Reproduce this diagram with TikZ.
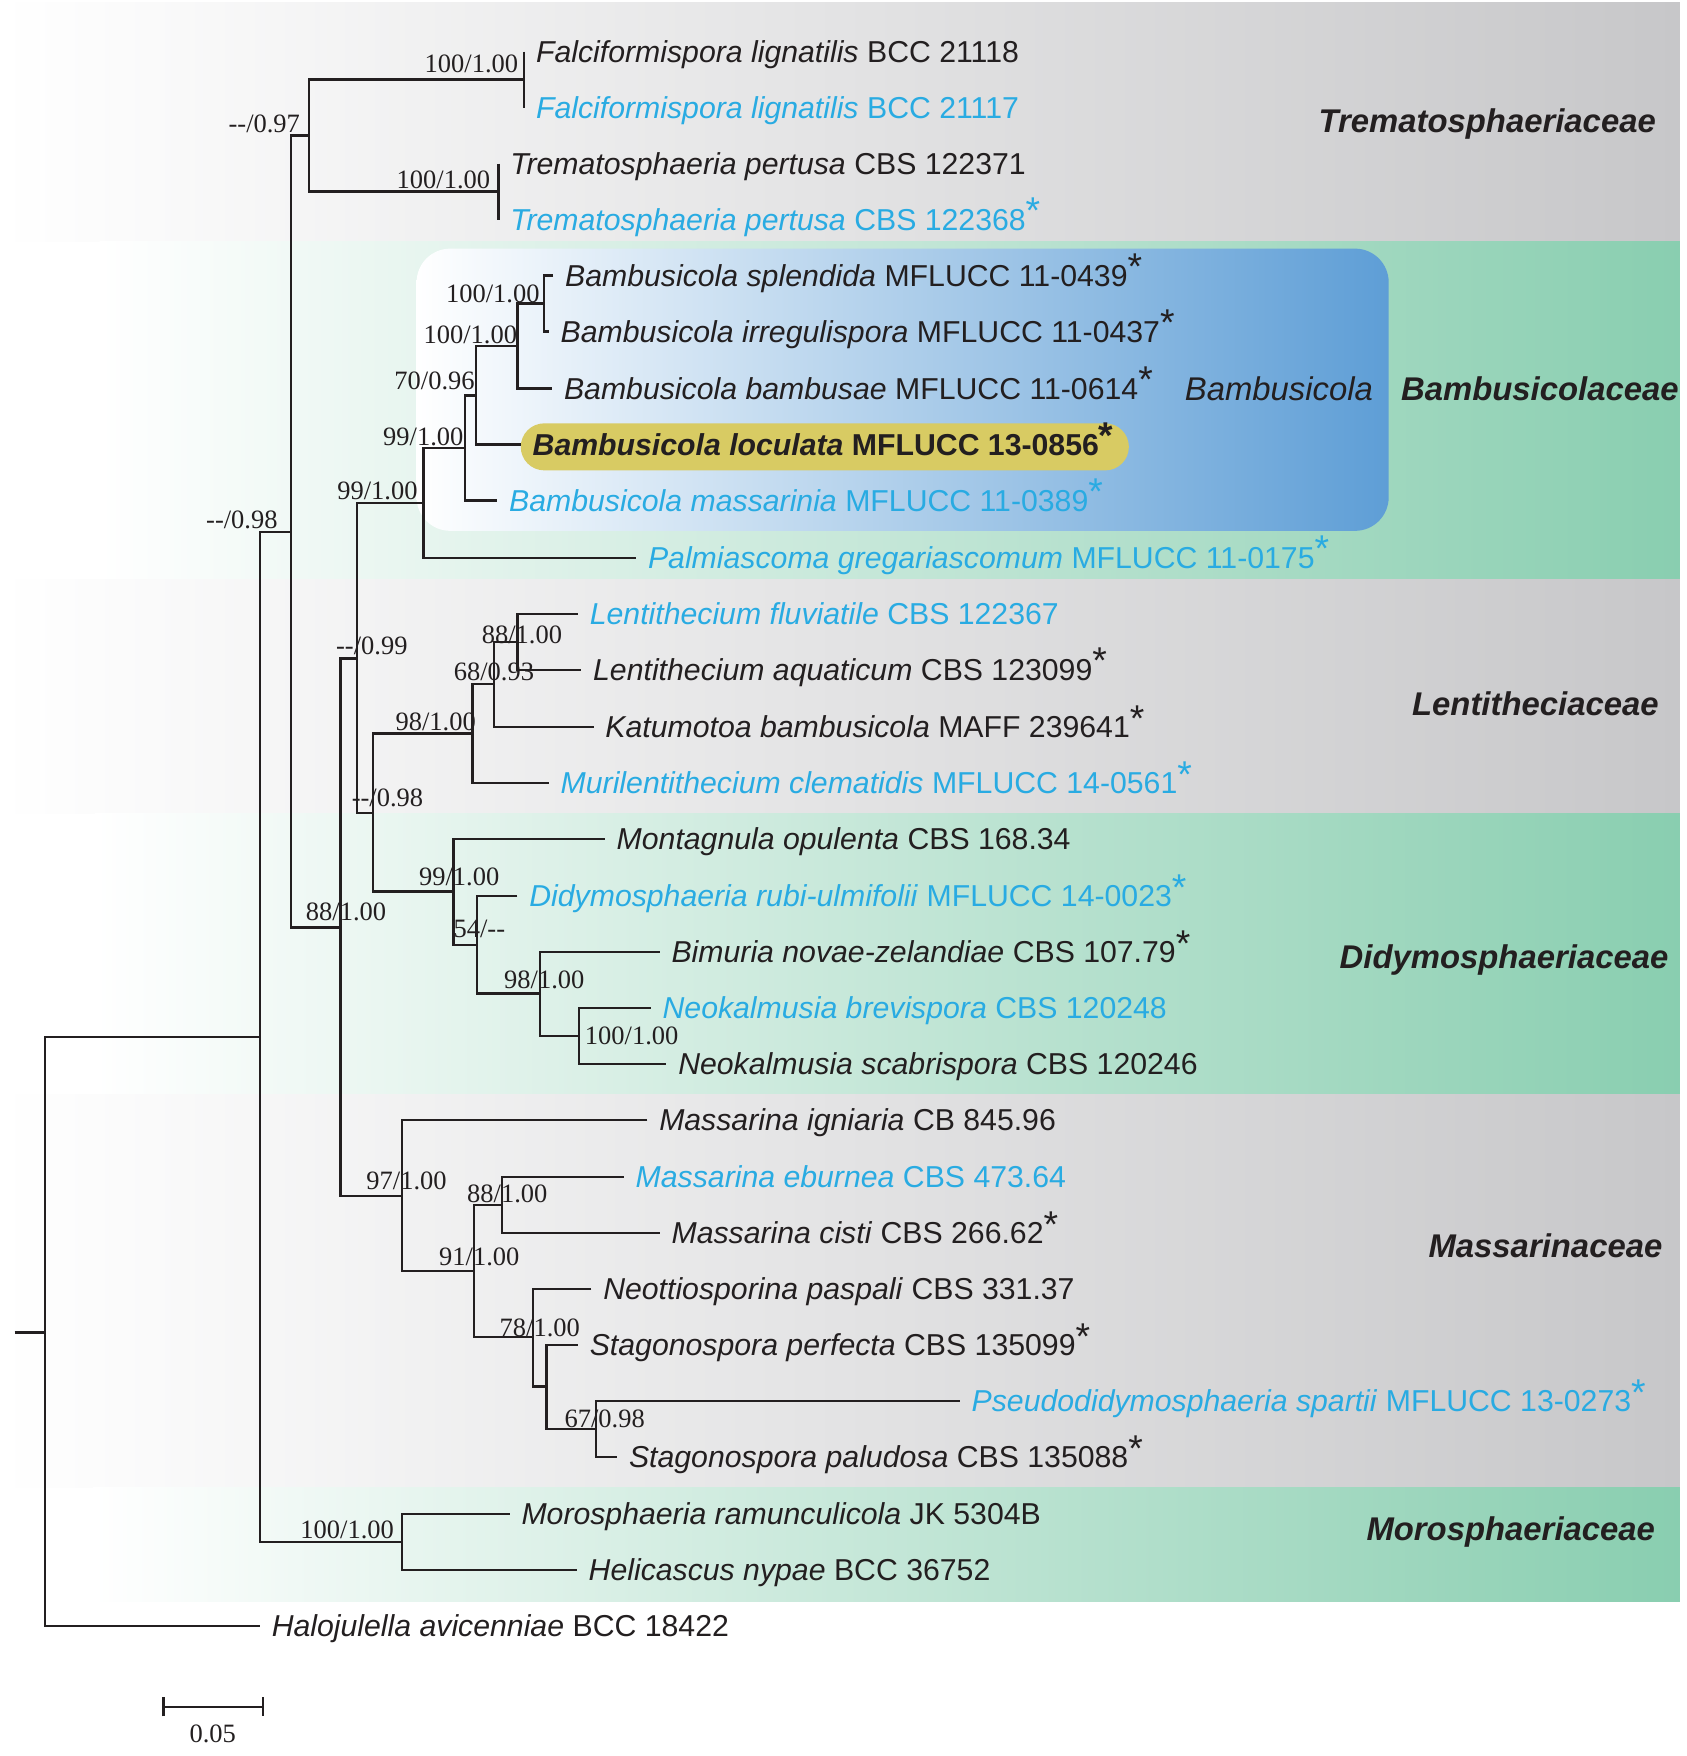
\documentclass[tikz,border=0pt]{standalone}
\usepackage{fontspec}
\setmainfont{Liberation Sans}
\newfontfamily\timesfont{Liberation Serif}
\usetikzlibrary{positioning,arrows.meta}

\definecolor{inkblack}{RGB}{35,31,32}
\definecolor{tipblue}{RGB}{41,171,226}
\definecolor{bandgray}{RGB}{199,199,201}
\definecolor{bandgreen}{RGB}{137,206,176}
\definecolor{genusblue}{RGB}{94,158,214}
\definecolor{locfill}{RGB}{216,203,99}

\newcommand{\spn}[1]{\textit{#1}}
\newcommand{\typestr}{\raisebox{.22em}{\fontsize{10}{10}\selectfont *}}

\tikzset{
  branch/.style={line width=0.65pt, draw=inkblack},
  taxon/.style={anchor=west, inner sep=0pt, text height=5.8pt, text depth=0pt,
    text=inkblack, font=\fontsize{8.1}{9}\selectfont},
  bluetaxon/.style={taxon, text=tipblue},
  support/.style={inner sep=0pt, text=inkblack, font=\timesfont\fontsize{7.1}{8}\selectfont},
  family/.style={inner sep=0pt, text=inkblack, font=\bfseries\itshape\fontsize{8.8}{10}\selectfont},
}

\begin{document}
\begin{tikzpicture}[x=0.3pt, y=-0.3pt]
  \useasboundingbox (0,0) rectangle (1506,1568);

  % Family bands
  \shade[left color=white, right color=bandgray] (0,2) rectangle (1500,216);
  \shade[left color=white, right color=bandgreen] (89,216) rectangle (1500,517);
  \shade[left color=white, right color=bandgray] (0,517) rectangle (1500,726);
  \shade[left color=white, right color=bandgreen] (85,726) rectangle (1500,977);
  \shade[left color=white, right color=bandgray] (0,977) rectangle (1500,1328);
  \shade[left color=white, right color=bandgreen] (83,1328) rectangle (1500,1430);

  % Genus box and new species highlight
  \shade[left color=white, right color=genusblue, rounded corners=9pt] (372,222) rectangle (1240,474);
  \fill[locfill, rounded corners=6.3pt] (465,378) rectangle (1008,420);

  % Tips
  \coordinate (t1) at (468,46);
  \coordinate (t2) at (468,96);
  \coordinate (t3) at (445,146);
  \coordinate (t4) at (445,196);
  \coordinate (t5) at (494,246);
  \coordinate (t6) at (490,296);
  \coordinate (t7) at (493,347);
  \coordinate (t8) at (465,397);
  \coordinate (t9) at (444,447);
  \coordinate (t10) at (568,498);
  \coordinate (t11) at (516,548);
  \coordinate (t12) at (519,598);
  \coordinate (t13) at (530,649);
  \coordinate (t14) at (490,699);
  \coordinate (t15) at (540,749);
  \coordinate (t16) at (462,800);
  \coordinate (t17) at (589,850);
  \coordinate (t18) at (581,900);
  \coordinate (t19) at (595,950);
  \coordinate (t20) at (578,1000);
  \coordinate (t21) at (557,1051);
  \coordinate (t22) at (589,1101);
  \coordinate (t23) at (528,1151);
  \coordinate (t24) at (516,1201);
  \coordinate (t25) at (857,1251);
  \coordinate (t26) at (551,1301);
  \coordinate (t27) at (455,1352);
  \coordinate (t28) at (515,1402);
  \coordinate (t29) at (232,1452);

  % Internal nodes
  \coordinate (nFal) at (468,71);
  \coordinate (nTre) at (445,171);
  \coordinate (nTrem) at (276,121);
  \coordinate (nBam1) at (486,271);
  \coordinate (nBam2) at (462,309);
  \coordinate (nBam3) at (425,353);
  \coordinate (nBam4) at (415,400);
  \coordinate (nBamc) at (378,449);
  \coordinate (nLen1) at (462,573);
  \coordinate (nLen2) at (441,611);
  \coordinate (nLen3) at (422,655);
  \coordinate (nNeo) at (517,925);
  \coordinate (nDid1) at (482,887);
  \coordinate (nDid2) at (426,844);
  \coordinate (nDid3) at (405,796);
  \coordinate (nLD) at (333,726);
  \coordinate (nBLD) at (319,588);
  \coordinate (nMas1) at (448,1076);
  \coordinate (nSta1) at (532,1276);
  \coordinate (nSta2) at (488,1238);
  \coordinate (nSta3) at (476,1194);
  \coordinate (nMas2) at (423,1135);
  \coordinate (nMas3) at (359,1068);
  \coordinate (nCore) at (304,828);
  \coordinate (nUp) at (260,475);
  \coordinate (nMor) at (359,1377);
  \coordinate (nIn) at (232,926);
  \coordinate (root) at (40,1190);
  \coordinate (stub) at (13,1190);

  % Branches
  \draw[branch] (t1) -| (nFal) |- (t2);
  \draw[branch] (t3) -| (nTre) |- (t4);
  \draw[branch] (nFal) -| (nTrem) |- (nTre);
  \draw[branch] (t5) -| (nBam1) |- (t6);
  \draw[branch] (nBam1) -| (nBam2) |- (t7);
  \draw[branch] (nBam2) -| (nBam3) |- (t8);
  \draw[branch] (nBam3) -| (nBam4) |- (t9);
  \draw[branch] (nBam4) -| (nBamc) |- (t10);
  \draw[branch] (t11) -| (nLen1) |- (t12);
  \draw[branch] (nLen1) -| (nLen2) |- (t13);
  \draw[branch] (nLen2) -| (nLen3) |- (t14);
  \draw[branch] (t18) -| (nNeo) |- (t19);
  \draw[branch] (t17) -| (nDid1) |- (nNeo);
  \draw[branch] (t16) -| (nDid2) |- (nDid1);
  \draw[branch] (t15) -| (nDid3) |- (nDid2);
  \draw[branch] (nLen3) -| (nLD) |- (nDid3);
  \draw[branch] (nBamc) -| (nBLD) |- (nLD);
  \draw[branch] (t21) -| (nMas1) |- (t22);
  \draw[branch] (t25) -| (nSta1) |- (t26);
  \draw[branch] (t24) -| (nSta2) |- (nSta1);
  \draw[branch] (t23) -| (nSta3) |- (nSta2);
  \draw[branch] (nMas1) -| (nMas2) |- (nSta3);
  \draw[branch] (t20) -| (nMas3) |- (nMas2);
  \draw[branch] (nBLD) -| (nCore) |- (nMas3);
  \draw[branch] (nTrem) -| (nUp) |- (nCore);
  \draw[branch] (t27) -| (nMor) |- (t28);
  \draw[branch] (nUp) -| (nIn) |- (nMor);
  \draw[branch] (nIn) -| (root) |- (t29);
  \draw[branch] (stub) -- (root);

  % Taxon names
  \node[taxon, right=3pt of t1] (l1) {\spn{Falciformispora lignatilis} BCC 21118};
  \node[bluetaxon, right=3pt of t2] (l2) {\spn{Falciformispora lignatilis} BCC 21117};
  \node[taxon, right=3pt of t3] (l3) {\spn{Trematosphaeria pertusa} CBS 122371};
  \node[bluetaxon, right=3pt of t4] (l4) {\spn{Trematosphaeria pertusa} CBS 122368\typestr};
  \node[taxon, right=3pt of t5] (l5) {\spn{Bambusicola splendida} MFLUCC 11-0439\typestr};
  \node[taxon, right=3pt of t6] (l6) {\spn{Bambusicola irregulispora} MFLUCC 11-0437\typestr};
  \node[taxon, right=3pt of t7] (l7) {\spn{Bambusicola bambusae} MFLUCC 11-0614\typestr};
  \node[taxon, right=3pt of t8, font=\bfseries\fontsize{8.1}{9}\selectfont] (l8) {\spn{Bambusicola loculata} MFLUCC 13-0856\typestr};
  \node[bluetaxon, right=3pt of t9] (l9) {\spn{Bambusicola massarinia} MFLUCC 11-0389\typestr};
  \node[bluetaxon, right=3pt of t10] (l10) {\spn{Palmiascoma gregariascomum} MFLUCC 11-0175\typestr};
  \node[bluetaxon, right=3pt of t11] (l11) {\spn{Lentithecium fluviatile} CBS 122367};
  \node[taxon, right=3pt of t12] (l12) {\spn{Lentithecium aquaticum} CBS 123099\typestr};
  \node[taxon, right=3pt of t13] (l13) {\spn{Katumotoa bambusicola} MAFF 239641\typestr};
  \node[bluetaxon, right=3pt of t14] (l14) {\spn{Murilentithecium clematidis} MFLUCC 14-0561\typestr};
  \node[taxon, right=3pt of t15] (l15) {\spn{Montagnula opulenta} CBS 168.34};
  \node[bluetaxon, right=3pt of t16] (l16) {\spn{Didymosphaeria rubi-ulmifolii} MFLUCC 14-0023\typestr};
  \node[taxon, right=3pt of t17] (l17) {\spn{Bimuria novae-zelandiae} CBS 107.79\typestr};
  \node[bluetaxon, right=3pt of t18] (l18) {\spn{Neokalmusia brevispora} CBS 120248};
  \node[taxon, right=3pt of t19] (l19) {\spn{Neokalmusia scabrispora} CBS 120246};
  \node[taxon, right=3pt of t20] (l20) {\spn{Massarina igniaria} CB 845.96};
  \node[bluetaxon, right=3pt of t21] (l21) {\spn{Massarina eburnea} CBS 473.64};
  \node[taxon, right=3pt of t22] (l22) {\spn{Massarina cisti} CBS 266.62\typestr};
  \node[taxon, right=3pt of t23] (l23) {\spn{Neottiosporina paspali} CBS 331.37};
  \node[taxon, right=3pt of t24] (l24) {\spn{Stagonospora perfecta} CBS 135099\typestr};
  \node[bluetaxon, right=3pt of t25] (l25) {\spn{Pseudodidymosphaeria spartii} MFLUCC 13-0273\typestr};
  \node[taxon, right=3pt of t26] (l26) {\spn{Stagonospora paludosa} CBS 135088\typestr};
  \node[taxon, right=3pt of t27] (l27) {\spn{Morosphaeria ramunculicola} JK 5304B};
  \node[taxon, right=3pt of t28] (l28) {\spn{Helicascus nypae} BCC 36752};
  \node[taxon, right=3pt of t29] (l29) {\spn{Halojulella avicenniae} BCC 18422};

  % Support values (ML/PP)
  \node[support] (bsFal) at (421,57) {100/1.00};
  \node[support] (bsTre) at (396,161) {100/1.00};
  \node[support] (bsTrem) at (236,111) {-{}-/0.97};
  \node[support] (bsBam1) at (440,262) {100/1.00};
  \node[support] (bsBam2) at (420,299) {100/1.00};
  \node[support] (bsBam3) at (388,340) {70/0.96};
  \node[support] (bsBam4) at (378,390) {99/1.00};
  \node[support] (bsBamc) at (337,438) {99/1.00};
  \node[support] (bsUp) at (216,464) {-{}-/0.98};
  \node[support] (bsBLD) at (332,577) {-{}-/0.99};
  \node[support] (bsLen1) at (466,567) {88/1.00};
  \node[support] (bsLen2) at (441,600) {68/0.93};
  \node[support] (bsLen3) at (389,645) {98/1.00};
  \node[support] (bsLD) at (346,712) {-{}-/0.98};
  \node[support] (bsDid3) at (410,783) {99/1.00};
  \node[support] (bsDid2) at (428,829) {54/-{}-};
  \node[support] (bsDid1) at (486,875) {98/1.00};
  \node[support] (bsNeo) at (564,925) {100/1.00};
  \node[support] (bsCore) at (309,814) {88/1.00};
  \node[support] (bsMas3) at (363,1054) {97/1.00};
  \node[support] (bsMas1) at (453,1066) {88/1.00};
  \node[support] (bsMas2) at (428,1122) {91/1.00};
  \node[support] (bsSta3) at (482,1186) {78/1.00};
  \node[support] (bsSta1) at (540,1267) {67/0.98};
  \node[support] (bsMor) at (310,1366) {100/1.00};

  % Family and genus labels
  \node[family] (famTrem) at (1328,111) {Trematosphaeriaceae};
  \node[family] (famBamb) at (1375,347) {Bambusicolaceae};
  \node[family] (famLent) at (1371,628) {Lentitheciaceae};
  \node[family] (famDidy) at (1343,857) {Didymosphaeriaceae};
  \node[family] (famMass) at (1380,1112) {Massarinaceae};
  \node[family] (famMoro) at (1349,1368) {Morosphaeriaceae};
  \node[family, font=\itshape\fontsize{8.8}{10}\selectfont] (genBamb) at (1142,347) {Bambusicola};

  % Scale bar
  \coordinate (sbL) at (145,1524);
  \coordinate (sbR) at (236,1524);
  \draw[branch, {Bar[width=5.2pt]}-{Bar[width=5.2pt]}] (sbL) -- (sbR);
  \node[support] (sbText) at (190,1548) {0.05};
\end{tikzpicture}
\end{document}
